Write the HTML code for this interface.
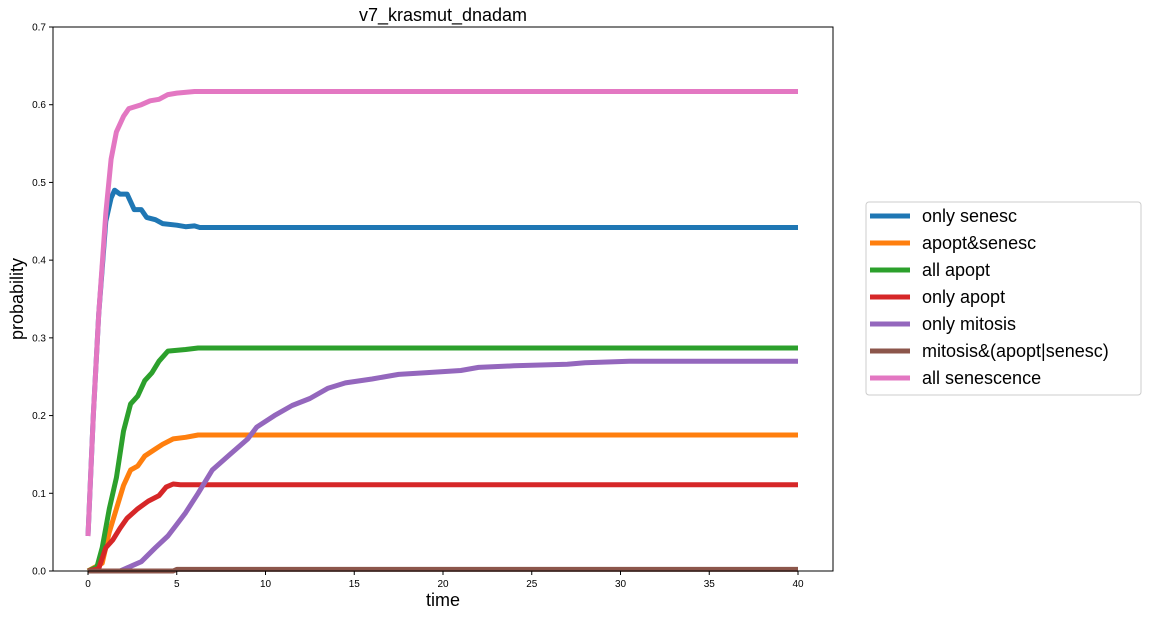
<!DOCTYPE html>
<html><head><meta charset="utf-8"><style>
body{margin:0;background:#fff;}
svg{display:block;font-family:"Liberation Sans","DejaVu Sans",sans-serif;}
</style></head><body>
<svg id="chart" width="1149" height="617"></svg>
<script>
const seriesNames=["only senesc","apopt&senesc","all apopt","only apopt","only mitosis","mitosis&(apopt|senesc)","all senescence"];
const seriesColors=["#1f77b4","#ff7f0e","#2ca02c","#d62728","#9467bd","#8c564b","#e377c2"];
const tOnlySenesc=[0,0.3,0.6,1.0,1.3,1.5,1.8,2.2,2.6,3.0,3.3,3.8,4.2,5,5.5,6,6.3,40];
const vOnlySenesc=[0.045,0.2,0.33,0.45,0.48,0.49,0.485,0.485,0.465,0.465,0.455,0.452,0.447,0.445,0.443,0.444,0.442,0.442];
const tApoptSenesc=[0,0.8,1.2,1.6,2.0,2.4,2.8,3.2,3.8,4.2,4.8,5.5,6.2,40];
const vApoptSenesc=[0,0.01,0.05,0.08,0.11,0.13,0.135,0.148,0.157,0.163,0.17,0.172,0.175,0.175];
const tAllApopt=[0,0.5,0.8,1.2,1.6,2.0,2.4,2.8,3.2,3.6,4.0,4.5,5.5,6.2,40];
const vAllApopt=[0,0.005,0.03,0.08,0.12,0.18,0.215,0.225,0.245,0.255,0.27,0.283,0.285,0.287,0.287];
const tOnlyApopt=[0,0.6,1.0,1.4,1.8,2.2,2.8,3.4,4.0,4.4,4.8,5.2,40];
const vOnlyApopt=[0,0.003,0.03,0.04,0.055,0.068,0.08,0.09,0.097,0.108,0.112,0.111,0.111];
const tOnlyMitosis=[0,1.8,2.5,3.0,3.8,4.5,5.0,5.5,6.2,7.0,8.0,9.0,9.5,10.5,11.5,12.5,13.5,14.5,16,17.5,19,21,22,24,27,28,30.5,40];
const vOnlyMitosis=[0,0,0.007,0.012,0.03,0.045,0.06,0.075,0.1,0.13,0.15,0.17,0.185,0.2,0.213,0.222,0.235,0.242,0.247,0.253,0.255,0.258,0.262,0.264,0.266,0.268,0.27,0.27];
const tMitosisOther=[0,4.8,5,40];
const vMitosisOther=[0,0,0.002,0.002];
const tAllSenescence=[0,0.3,0.6,1.0,1.3,1.6,2.0,2.3,3.0,3.5,4.0,4.5,5.0,6.0,40];
const vAllSenescence=[0.045,0.2,0.33,0.46,0.53,0.565,0.585,0.595,0.6,0.605,0.607,0.613,0.615,0.617,0.617];
const xTicks=[0,5,10,15,20,25,30,35,40];
const yTicks=[0.0,0.1,0.2,0.3,0.4,0.5,0.6,0.7];

const NS="http://www.w3.org/2000/svg";
const svg=document.getElementById("chart");
const L=53,R=833,T=27,B=571;
const xs=t=>88+t*17.75;
const ys=v=>B-(v/0.7)*(B-T);
function mk(tag,attrs,parent){const e=document.createElementNS(NS,tag);for(const k in attrs)e.setAttribute(k,attrs[k]);(parent||svg).appendChild(e);return e;}

const title=mk("text",{x:443,y:21,"text-anchor":"middle","font-size":18,fill:"#000"});
title.textContent="v7_krasmut_dnadam";



const plotG=mk("g",{});


const allT=[tOnlySenesc,tApoptSenesc,tAllApopt,tOnlyApopt,tOnlyMitosis,tMitosisOther,tAllSenescence];
const allV=[vOnlySenesc,vApoptSenesc,vAllApopt,vOnlyApopt,vOnlyMitosis,vMitosisOther,vAllSenescence];
const drawOrder=[0,1,2,3,4,5,6];
drawOrder.forEach(i=>{
  const pts=allT[i].map((t,j)=>xs(t).toFixed(1)+","+ys(allV[i][j]).toFixed(1)).join(" ");
  const pl=mk("polyline",{points:pts,fill:"none",stroke:seriesColors[i],"stroke-width":5,"stroke-linejoin":"round"},plotG);
  
  
});

const frame=mk("rect",{x:L,y:T,width:R-L,height:B-T,fill:"none",stroke:"#000","stroke-width":1});



xTicks.forEach(t=>{
  mk("line",{x1:xs(t),x2:xs(t),y1:B,y2:B+4,stroke:"#000"});
  const tx=mk("text",{x:xs(t),y:B+16,"text-anchor":"middle","font-size":10,fill:"#000"});
  tx.textContent=t;
  
  
});
yTicks.forEach(v=>{
  mk("line",{x1:L-4,x2:L,y1:ys(v),y2:ys(v),stroke:"#000"});
  const tx=mk("text",{x:L-7,y:ys(v)+3.5,"text-anchor":"end","font-size":10,fill:"#000"});
  tx.textContent=v.toFixed(1);
  
  
});
const xl=mk("text",{x:443,y:606,"text-anchor":"middle","font-size":18,fill:"#000"});
xl.textContent="time";


const yl=mk("text",{x:23,y:299,"text-anchor":"middle","font-size":18,fill:"#000",transform:"rotate(-90 23 299)"});
yl.textContent="probability";



const leg=mk("g",{});


mk("rect",{x:866,y:202,width:275,height:193,rx:3,fill:"#fff",stroke:"#ccc"},leg);
seriesNames.forEach((n,i)=>{
  const y=216+i*27;
  const e=mk("g",{},leg);
  
  
  mk("line",{x1:870,x2:910,y1:y,y2:y,stroke:seriesColors[i],"stroke-width":5},e);
  const tx=mk("text",{x:922,y:y+6,"font-size":18,fill:"#000"},e);
  tx.textContent=n;
});
</script>
</body></html>
